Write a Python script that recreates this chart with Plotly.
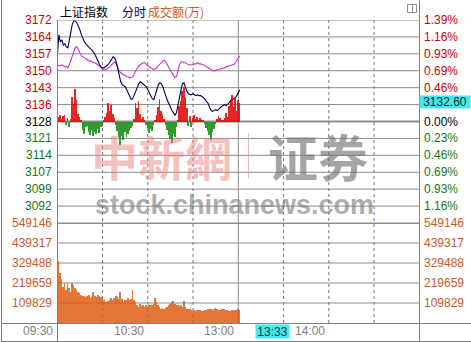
import plotly.graph_objects as go

W, H = 471, 342


def px(x):
    return x / W


def py(y):
    return 1 - y / H


# ---------------- data ----------------
price = [3156.2, 3165.6, 3162.6, 3163.5, 3161.3, 3161.8, 3160.5, 3160.1, 3163.5, 3167.7,
         3170.3, 3171.6, 3171.6, 3170.7, 3169.4, 3167.7, 3165.6, 3163.9, 3162.6, 3161.8,
         3160.9, 3160.1, 3159.6, 3159.2, 3158.4, 3157.1, 3155.8, 3154.1, 3152.8, 3152.0,
         3151.5, 3151.5, 3152.0, 3152.4, 3153.2, 3154.1, 3155.4, 3156.2, 3155.8, 3154.1,
         3151.5, 3148.1, 3145.6, 3144.3, 3143.9, 3143.4, 3142.1, 3140.4, 3138.7, 3137.9,
         3138.3, 3140.0, 3141.7, 3143.4, 3144.7, 3145.6, 3145.1, 3144.7, 3144.3, 3143.4,
         3142.1, 3140.9, 3139.6, 3138.3, 3137.9, 3139.6, 3142.1, 3144.3, 3145.1, 3144.7,
         3143.4, 3141.3, 3139.2, 3137.5, 3136.2, 3134.5, 3133.2, 3132.3, 3131.1, 3132.3,
         3134.9, 3138.7, 3142.1, 3144.7, 3145.1, 3143.0, 3141.3, 3140.4, 3140.0, 3140.0,
         3140.4, 3140.0, 3139.6, 3140.0, 3139.6, 3139.6, 3139.2, 3138.7, 3137.9, 3137.0,
         3136.2, 3134.5, 3133.2, 3132.8, 3133.2, 3133.6, 3133.2, 3133.6, 3134.5, 3134.9,
         3135.3, 3135.8, 3135.3, 3135.8, 3136.6, 3137.5, 3137.9, 3138.3, 3138.7, 3139.6,
         3140.9, 3142.1]

avg_line = [3152.8, 3152.4, 3152.4, 3152.8, 3152.4, 3152.0, 3152.0, 3151.5, 3152.8, 3154.9,
            3157.1, 3159.2, 3160.5, 3160.5, 3159.2, 3157.9, 3156.6, 3156.2, 3155.8, 3155.4,
            3154.9, 3154.5, 3154.5, 3154.1, 3153.7, 3153.7, 3153.2, 3152.4, 3152.0, 3151.5,
            3151.1, 3150.7, 3150.7, 3151.1, 3151.5, 3152.0, 3152.8, 3153.7, 3154.1, 3153.2,
            3151.5, 3150.3, 3149.4, 3149.0, 3148.5, 3148.1, 3147.7, 3147.7, 3147.3, 3147.3,
            3147.7, 3149.0, 3150.3, 3151.5, 3152.4, 3152.8, 3153.2, 3153.7, 3153.7, 3152.8,
            3152.4, 3152.0, 3151.5, 3151.1, 3150.7, 3151.1, 3151.5, 3152.4, 3153.2, 3154.1,
            3154.5, 3154.9, 3154.1, 3152.8, 3151.5, 3150.3, 3149.4, 3148.1, 3147.3, 3147.7,
            3150.7, 3152.8, 3154.1, 3154.1, 3153.7, 3153.7, 3153.2, 3152.8, 3152.8, 3152.8,
            3152.8, 3153.2, 3153.2, 3153.7, 3153.2, 3153.2, 3152.8, 3152.8, 3152.4, 3152.0,
            3151.5, 3151.1, 3150.7, 3150.3, 3150.3, 3150.3, 3150.7, 3150.7, 3151.1, 3151.1,
            3151.5, 3151.5, 3152.0, 3152.0, 3152.4, 3152.4, 3152.8, 3152.8, 3153.7, 3154.5,
            3155.8, 3156.6]

breadth = [24, 5, 7, 3, 6, 7, -3, 4, -5, 3,
           25, 18, 33, 22, 8, 5, 2, -8, -12, -5,
           -4, -10, -13, -8, -14, -10, -12, -7, -11, -5,
           -4, 2, 5, 9, 19, 11, 17, 8, 4, -3,
           -9, -15, -23, -14, -18, -10, -15, -12, -9, -6,
           -4, 3, 19, 14, 21, 8, 3, 5, 1, -3,
           -6, -11, -7, -9, -3, 2, 7, 15, 23, 11,
           8, 3, -3, -8, -13, -17, -21, -12, -15, -5,
           2, 16, 21, 31, 35, 25, 14, -4, 6, -5,
           4, 7, 3, 5, 2, 4, 2, 1, -2, -6,
           -9, -13, -18, -10, -7, -2, 3, 6, 4, 2,
           1, 4, 9, 5, 16, 21, 27, 15, 24, 11,
           22, 19]

volume = [510720, 340460, 274570, 241620, 197690, 219660, 181220, 219660, 192200, 170230,
          219660, 208670, 192200, 181220, 170230, 164740, 153760, 148270, 148270, 142780,
          148270, 153760, 137290, 142780, 170230, 148270, 142780, 153760, 148270, 142780,
          137290, 126300, 115320, 115320, 120810, 126300, 137290, 126300, 137290, 148270,
          142780, 131790, 170230, 131790, 115320, 126300, 126300, 137290, 126300, 131790,
          181220, 126300, 115320, 98850, 87860, 104340, 93350, 98850, 87860, 98850,
          93350, 98850, 98850, 98850, 104340, 137290, 115320, 98850, 87860, 76880,
          82370, 76880, 82370, 87860, 98850, 104340, 115320, 120810, 104340, 98850,
          98850, 93350, 98850, 87860, 120810, 87860, 76880, 76880, 76880, 71390,
          65900, 71390, 65900, 71390, 71390, 71390, 65900, 65900, 71390, 71390,
          76880, 76880, 76880, 71390, 76880, 82370, 76880, 71390, 71390, 76880,
          76880, 76880, 71390, 71390, 65900, 65900, 71390, 71390, 71390, 71390,
          76880, 71390]

minutes = list(range(len(price)))

prev_close = 3128.5
price_step = 7.25

left_price_labels = ["3172", "3164", "3157", "3150", "3143", "3136", "3128",
                     "3121", "3114", "3107", "3099", "3092"]
right_pct_labels = ["1.39%", "1.16%", "0.93%", "0.69%", "0.46%", "0.23%", "0.00%",
                    "0.23%", "0.46%", "0.69%", "0.93%", "1.16%"]
volume_ticks = [549146, 439317, 329488, 219659, 109829]

time_labels = ["09:30", "10:30", "13:00", "14:00"]
time_label_minutes = [0, 60, 120, 180]
grid_minutes = [30, 60, 90, 150, 180, 210]
cursor_time = "13:33"
cursor_minute = 153
cursor_value = "3132.60"

# ---------------- styling ----------------
FONT = "Liberation Sans, Arial, sans-serif"
CJK = "Noto Sans CJK SC, sans-serif"
RED = "#cc0000"
GREEN = "#127a12"
ORANGE = "#cc5a1e"
GRID = "#8c8c8c"
FRAME = "#808080"

x_dom = [px(57.3), px(419.3)]
price_dom = [py(223), py(20)]
vol_dom = [py(323), py(223)]

fig = go.Figure()

fig.add_trace(go.Bar(x=minutes, y=volume, yaxis="y3", width=0.5, opacity=0.82,
                     marker=dict(color="#e0580f", line=dict(width=0)),
                     hoverinfo="skip"))

fig.add_trace(go.Bar(x=minutes, y=breadth, yaxis="y2", width=0.5, opacity=0.85,
                     marker=dict(color=[("#e00000" if v >= 0 else "#0e8a0e") for v in breadth],
                                 line=dict(width=0)),
                     hoverinfo="skip"))

fig.add_trace(go.Scatter(x=minutes, y=avg_line, yaxis="y", mode="lines",
                         line=dict(color="#cc33cc", width=1.1), hoverinfo="skip"))
fig.add_trace(go.Scatter(x=minutes, y=price, yaxis="y", mode="lines",
                         line=dict(color="#00005e", width=1.1), hoverinfo="skip"))

hidden = dict(showgrid=False, zeroline=False, showticklabels=False, showline=False, ticks="")

shapes = []

# horizontal price gridlines
for k in range(-6, 7):
    yv = prev_close + k * price_step
    shapes.append(dict(type="line", xref="paper", yref="y", x0=px(57), x1=px(419.5),
                       y0=yv, y1=yv, line=dict(color=GRID, width=2 if k == 0 else 1),
                       layer="below"))
# volume gridlines
for v in volume_ticks:
    shapes.append(dict(type="line", xref="paper", yref="y3", x0=px(57), x1=px(419.5),
                       y0=v, y1=v, line=dict(color=GRID, width=2 if v == volume_ticks[0] else 1),
                       layer="below"))
# vertical dotted grid
for m in grid_minutes:
    shapes.append(dict(type="line", xref="x", yref="paper", x0=m, x1=m,
                       y0=py(323), y1=py(20), line=dict(color="#777777", width=1, dash="dot"),
                       layer="below"))
# session break solid line
shapes.append(dict(type="line", xref="x", yref="paper", x0=120, x1=120,
                   y0=py(323), y1=py(20), line=dict(color=GRID, width=1), layer="below"))

# frame lines
frame = [
    (57.5, 20, 57.5, 342),
    (419.5, 0, 419.5, 342),
    (1.5, 0, 1.5, 342),
    (1, 323.5, 471, 323.5),
    (1, 341.5, 471, 341.5),
]
for x0, y0, x1, y1 in frame:
    shapes.append(dict(type="line", xref="paper", yref="paper", x0=px(x0), x1=px(x1),
                       y0=py(y0), y1=py(y1), line=dict(color=FRAME, width=1)))

# small icon top right
shapes.append(dict(type="rect", xref="paper", yref="paper", x0=px(407.5), x1=px(416.5),
                   y0=py(12.5), y1=py(4.5), line=dict(color="#909090", width=1)))
shapes.append(dict(type="line", xref="paper", yref="paper", x0=px(412.5), x1=px(412.5),
                   y0=py(12.5), y1=py(4.5), line=dict(color="#909090", width=1)))
# watermark separator
shapes.append(dict(type="line", xref="paper", yref="paper", x0=px(248.5), x1=px(248.5),
                   y0=py(178), y1=py(133), line=dict(color="rgba(200,150,150,0.6)", width=1)))

ann = []

# watermark
ann.append(dict(text="<b>中新網</b>", x=px(161), y=py(155), xref="paper", yref="paper",
                xanchor="center", yanchor="middle",
                showarrow=False, font=dict(family=CJK, size=47, color="rgba(236,130,130,0.5)")))
ann.append(dict(text="<b>证券</b>", x=px(318), y=py(155), xref="paper", yref="paper",
                xanchor="center", yanchor="middle",
                showarrow=False, font=dict(family=CJK, size=50, color="rgba(110,110,110,0.62)")))
ann.append(dict(text="<b>stock.chinanews.com</b>", x=px(234), y=py(205), xref="paper", yref="paper",
                xanchor="center", yanchor="middle",
                showarrow=False, font=dict(family=FONT, size=27, color="rgba(120,120,120,0.6)")))

# left / right price labels
for i, lab in enumerate(left_price_labels):
    k = 6 - i
    yv = prev_close + k * price_step
    col = RED if k > 0 else ("#000000" if k == 0 else GREEN)
    ann.append(dict(text=lab, x=px(54), y=yv, xref="paper", yref="y", xanchor="right",
                    yanchor="middle", showarrow=False, font=dict(family=FONT, size=12, color=col)))
for i, lab in enumerate(right_pct_labels):
    k = 6 - i
    if k == 1:
        continue  # hidden under the current-value box in the reference
    yv = prev_close + k * price_step
    col = RED if k > 0 else ("#000000" if k == 0 else GREEN)
    ann.append(dict(text=lab, x=px(421.5), y=yv, xref="paper", yref="y", xanchor="left",
                    yanchor="middle", showarrow=False, font=dict(family=FONT, size=12, color=col)))
# volume labels
for v in volume_ticks:
    ann.append(dict(text=str(v), x=px(54), y=v, xref="paper", yref="y3", xanchor="right",
                    yanchor="middle", showarrow=False, font=dict(family=FONT, size=12, color=ORANGE)))
    ann.append(dict(text=str(v), x=px(421.5), y=v, xref="paper", yref="y3", xanchor="left",
                    yanchor="middle", showarrow=False, font=dict(family=FONT, size=12, color=ORANGE)))

# current value box
ann.append(dict(text=cursor_value, x=px(445), y=py(102), xref="paper", yref="paper",
                xanchor="center", yanchor="middle", showarrow=False, bgcolor="#3cecf4",
                width=50, height=12, borderpad=0,
                font=dict(family=FONT, size=12, color="#1a1a1a")))

# time labels
for lab, m in zip(time_labels, time_label_minutes):
    ann.append(dict(text=lab, x=m, y=py(331), xref="x", yref="paper", xanchor="right",
                    yanchor="middle", xshift=-2, showarrow=False,
                    font=dict(family=FONT, size=12, color="#808080")))
ann.append(dict(text=cursor_time, x=cursor_minute, y=py(331), xref="x", yref="paper",
                xanchor="right", yanchor="middle", xshift=2, showarrow=False,
                bgcolor="#3cecf4", width=33, height=13, borderpad=0,
                font=dict(family=FONT, size=12, color="#333333")))

# header
ann.append(dict(text="上证指数", x=px(58), y=py(11), xref="paper", yref="paper", xanchor="left",
                yanchor="middle", showarrow=False, font=dict(family=CJK, size=12, color="#000000")))
ann.append(dict(text="分时", x=px(120), y=py(11), xref="paper", yref="paper", xanchor="left",
                yanchor="middle", showarrow=False, font=dict(family=CJK, size=12, color="#000066")))
ann.append(dict(text="成交额(万)", x=px(146), y=py(11), xref="paper", yref="paper", xanchor="left",
                yanchor="middle", showarrow=False, font=dict(family=CJK, size=12, color="#cc5a1e")))

fig.update_layout(
    width=W, height=H, autosize=False,
    margin=dict(l=0, r=0, t=0, b=0, pad=0),
    paper_bgcolor="white", plot_bgcolor="white",
    showlegend=False, hovermode=False, barmode="overlay", bargap=0,
    xaxis=dict(domain=x_dom, range=[0, 240], anchor="y", **hidden),
    yaxis=dict(domain=price_dom, range=[prev_close - 6 * price_step, prev_close + 6 * price_step],
               anchor="x", **hidden),
    yaxis2=dict(domain=price_dom, range=[-101.5, 101.5], overlaying="y", anchor="x", **hidden),
    yaxis3=dict(domain=vol_dom, range=[0, volume_ticks[0]], anchor="x", **hidden),
    shapes=shapes,
    annotations=ann,
)

fig.write_html("out.html")
